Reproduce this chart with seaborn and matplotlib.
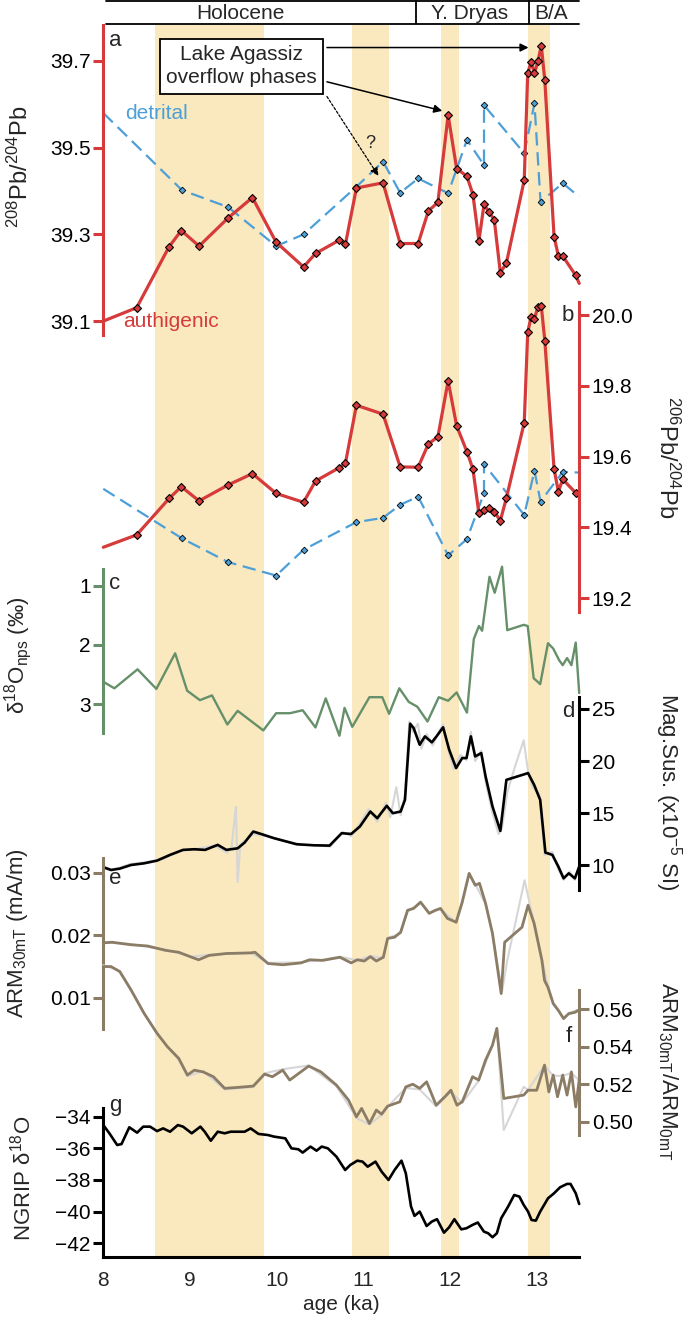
import numpy as np
import pandas as pd
import seaborn as sns
import matplotlib.pyplot as plt

sns.set_style("white")
plt.rcParams['font.family'] = ['Liberation Sans', 'DejaVu Sans']
plt.rcParams['mathtext.default'] = 'regular'

W, H = 685, 1318
XMIN, XMAX = 8.0, 13.49
LPX, RPX = 103.3, 579.2   # pixel position of age 8 and of the right edge

RED = '#d63a3a'
BLUE = '#4d9fd8'
GREEN = '#66906a'
BROWN = '#8b7c66'
GREY = '#d6d6d6'
BAND = '#fae8be'
TICK_FS = 15
LAB_FS = 16

# ---- data ----
bands = [(8.60, 9.85), (10.87, 11.30), (11.90, 12.10), (12.90, 13.15)]
periods = ["Holocene", "Y. Dryas", "B/A"]
period_mid = [9.58, 12.22, 13.17]
period_edges = [11.61, 12.91]

pb_age = [8.0, 8.385, 8.76, 8.90, 9.105, 9.44, 9.72, 9.994, 10.31, 10.448,
          10.724, 10.793, 10.92, 11.227, 11.425, 11.632, 11.75, 11.86, 11.978, 12.076,
          12.195, 12.264, 12.333, 12.392, 12.451, 12.51, 12.58, 12.649, 12.856, 12.896,
          12.935, 12.974, 13.014, 13.053, 13.093, 13.20, 13.25, 13.30, 13.448, 13.49]
pb208_auth = [39.10, 39.131, 39.272, 39.309, 39.273, 39.338, 39.385, 39.282, 39.225, 39.256,
              39.287, 39.277, 39.407, 39.419, 39.279, 39.279, 39.354, 39.374, 39.575, 39.452,
              39.434, 39.392, 39.285, 39.369, 39.351, 39.334, 39.212, 39.233, 39.425, 39.672,
              39.698, 39.672, 39.700, 39.735, 39.656, 39.295, 39.250, 39.250, 39.206, 39.187]
pb206_auth = [19.344, 19.379, 19.482, 19.515, 19.475, 19.520, 19.552, 19.496, 19.471, 19.531,
              19.569, 19.581, 19.745, 19.720, 19.571, 19.570, 19.636, 19.656, 19.814, 19.687,
              19.614, 19.565, 19.440, 19.448, 19.454, 19.445, 19.419, 19.482, 19.696, 19.951,
              19.995, 19.989, 20.024, 20.025, 19.928, 19.565, 19.501, 19.536, 19.498, 19.487]

det_age = [8.0, 8.908, 9.44, 9.994, 10.31, 10.92, 11.227, 11.425, 11.632, 11.978,
           12.195, 12.392, 12.392, 12.856, 12.974, 13.044, 13.30, 13.49]
pb208_det = [39.580, 39.402, 39.363, 39.273, 39.300, 39.410, 39.468, 39.396, 39.429, 39.395,
             39.518, 39.460, 39.598, 39.487, 39.602, 39.375, 39.418, 39.387]
pb206_det = [19.509, 19.369, 19.302, 19.264, 19.337, 19.415, 19.427, 19.464, 19.487, 19.321,
             19.367, 19.497, 19.579, 19.435, 19.560, 19.473, 19.557, 19.555]

nps_age = [8.0, 8.128, 8.395, 8.612, 8.829, 8.967, 9.115, 9.254, 9.431, 9.55,
           9.846, 9.994, 10.152, 10.30, 10.448, 10.566, 10.724, 10.783, 10.872, 11.07,
           11.218, 11.297, 11.415, 11.524, 11.622, 11.74, 11.87, 11.978, 12.076, 12.195,
           12.274, 12.333, 12.37, 12.455, 12.515, 12.60, 12.66, 12.85, 12.896, 12.965,
           13.04, 13.13, 13.19, 13.26, 13.30, 13.35, 13.40, 13.45, 13.49]
d18_nps = [2.62, 2.73, 2.41, 2.74, 2.14, 2.77, 2.93, 2.85, 3.34, 3.11,
           3.44, 3.15, 3.15, 3.10, 3.39, 2.90, 3.53, 3.06, 3.38, 2.88,
           2.88, 3.16, 2.73, 2.96, 3.04, 3.29, 2.88, 2.94, 2.80, 3.14,
           1.90, 1.68, 1.76, 0.85, 1.12, 0.68, 1.75, 1.66, 1.68, 2.56,
           2.66, 1.97, 2.06, 2.26, 2.34, 2.22, 2.34, 1.96, 2.81]

ms_age = [8.0, 8.09, 8.19, 8.32, 8.47, 8.62, 8.77, 8.92, 9.05, 9.175,
          9.32, 9.42, 9.55, 9.63, 9.73, 9.83, 9.97, 10.23, 10.43, 10.61,
          10.75, 10.86, 10.96, 11.08, 11.16, 11.27, 11.34, 11.43, 11.48, 11.54,
          11.58, 11.65, 11.71, 11.79, 11.85, 11.92, 11.99, 12.07, 12.14, 12.19,
          12.24, 12.29, 12.36, 12.41, 12.49, 12.58, 12.65, 12.74, 12.90, 12.97,
          13.04, 13.10, 13.18, 13.25, 13.31, 13.37, 13.44, 13.49]
magsus = [9.81, 9.55, 9.68, 10.03, 10.19, 10.45, 11.00, 11.48, 11.54, 11.48,
          11.96, 11.48, 11.63, 12.18, 13.24, 12.98, 12.60, 12.02, 11.92, 11.89,
          13.08, 13.01, 13.72, 15.16, 14.52, 15.71, 15.00, 15.16, 16.28, 23.59,
          23.17, 21.57, 22.37, 21.80, 22.44, 23.24, 21.09, 19.33, 20.29, 20.29,
          22.37, 20.45, 20.77, 18.53, 15.64, 13.30, 18.20, 18.43, 18.85, 17.72,
          16.28, 11.22, 11.00, 9.87, 8.75, 9.23, 8.75, 9.87]
ms_raw_age = [8.0, 8.1, 8.2, 8.3, 8.49, 8.69, 8.89, 9.09, 9.28, 9.43,
              9.48, 9.53, 9.55, 9.58, 9.73, 9.88, 10.07, 10.27, 10.47, 10.62,
              10.76, 10.86, 10.96, 11.06, 11.16, 11.26, 11.31, 11.38, 11.43, 11.48,
              11.53, 11.57, 11.63, 11.67, 11.73, 11.80, 11.87, 11.92, 11.99, 12.04,
              12.12, 12.19, 12.24, 12.29, 12.36, 12.41, 12.49, 12.56, 12.60, 12.66,
              12.75, 12.85, 12.90, 12.95, 13.03, 13.09, 13.18, 13.25, 13.31, 13.38,
              13.44, 13.49]
magsus_raw = [9.9, 9.6, 9.8, 10.1, 10.3, 10.6, 11.4, 11.6, 11.9, 11.2,
              11.8, 15.6, 8.4, 12.0, 13.0, 12.8, 12.4, 12.0, 11.9, 11.8,
              13.2, 12.8, 14.0, 15.4, 14.2, 16.0, 14.6, 17.5, 14.8, 16.8,
              23.8, 22.8, 23.6, 21.2, 22.6, 21.5, 22.8, 23.5, 20.8, 19.2,
              20.6, 20.1, 22.8, 20.0, 21.0, 18.0, 15.0, 13.0, 13.6, 17.0,
              19.5, 22.0, 19.0, 17.5, 16.8, 11.0, 11.3, 9.6, 8.6, 9.4,
              8.6, 9.9]

arm_age = [8.0, 8.1, 8.32, 8.51, 8.72, 8.87, 9.02, 9.10, 9.22, 9.42,
           9.70, 9.75, 9.90, 10.07, 10.28, 10.38, 10.53, 10.73, 10.86, 10.93,
           11.01, 11.08, 11.15, 11.23, 11.28, 11.36, 11.43, 11.51, 11.58, 11.66,
           11.76, 11.83, 11.89, 11.97, 12.07, 12.14, 12.22, 12.29, 12.34, 12.41,
           12.49, 12.59, 12.63, 12.83, 12.90, 12.97, 13.06, 13.09, 13.13, 13.19,
           13.25, 13.31, 13.37, 13.44, 13.49]
arm30 = [0.0188, 0.0189, 0.0185, 0.0183, 0.0176, 0.0173, 0.0165, 0.0161, 0.0168, 0.0171,
         0.0172, 0.0173, 0.0155, 0.0153, 0.0156, 0.0161, 0.0160, 0.0165, 0.0156, 0.0161,
         0.0159, 0.0166, 0.0159, 0.0165, 0.0195, 0.0197, 0.0205, 0.0240, 0.0243, 0.0253,
         0.0235, 0.0240, 0.0243, 0.0227, 0.0221, 0.0253, 0.0299, 0.0280, 0.0283, 0.0251,
         0.0203, 0.0107, 0.0189, 0.0213, 0.0248, 0.0219, 0.0160, 0.0128, 0.0117, 0.0091,
         0.0080, 0.0067, 0.0075, 0.0077, 0.0081]
arm_raw_age = [8.0, 8.32, 8.72, 9.02, 9.22, 9.70, 9.90, 10.28, 10.53, 10.73,
               10.93, 11.08, 11.23, 11.28, 11.43, 11.51, 11.66, 11.76, 11.89, 12.07,
               12.14, 12.22, 12.29, 12.41, 12.49, 12.60, 12.66, 12.86, 12.92, 12.97,
               13.06, 13.13, 13.19, 13.25, 13.31, 13.37, 13.49]
arm30_raw = [0.0189, 0.0186, 0.0177, 0.0166, 0.0169, 0.0172, 0.0156, 0.0157, 0.0161, 0.0166,
             0.0160, 0.0167, 0.0164, 0.0196, 0.0203, 0.0238, 0.0252, 0.0236, 0.0242, 0.0220,
             0.0250, 0.0297, 0.0282, 0.0250, 0.0200, 0.0110, 0.0160, 0.0288, 0.0250, 0.0220,
             0.0162, 0.0119, 0.0093, 0.0081, 0.0068, 0.0076, 0.0082]

ratio_age = [8.0, 8.09, 8.19, 8.32, 8.47, 8.62, 8.74, 8.87, 8.97, 9.05,
             9.15, 9.27, 9.40, 9.55, 9.73, 9.86, 9.95, 10.07, 10.15, 10.37,
             10.51, 10.69, 10.83, 10.92, 10.98, 11.07, 11.15, 11.21, 11.28, 11.42,
             11.49, 11.57, 11.65, 11.73, 11.84, 11.94, 12.01, 12.08, 12.14, 12.26,
             12.33, 12.41, 12.49, 12.54, 12.62, 12.85, 12.90, 13.00, 13.09, 13.14,
             13.19, 13.24, 13.30, 13.35, 13.40, 13.45, 13.49]
arm_ratio = [0.5828, 0.5828, 0.5801, 0.5703, 0.5579, 0.5472, 0.5400, 0.5338, 0.5249, 0.5275,
             0.5266, 0.5240, 0.5178, 0.5183, 0.5190, 0.5254, 0.5240, 0.5275, 0.5222, 0.5297,
             0.5266, 0.5195, 0.5115, 0.5026, 0.5071, 0.4990, 0.5062, 0.5040, 0.5083, 0.5106,
             0.5186, 0.5200, 0.5178, 0.5213, 0.5088, 0.5133, 0.5168, 0.5088, 0.5106, 0.5240,
             0.5222, 0.5329, 0.5409, 0.5498, 0.5124, 0.5142, 0.5168, 0.5168, 0.5302, 0.5159,
             0.5249, 0.5133, 0.5249, 0.5142, 0.5266, 0.5079, 0.5222]
ratio_raw_age = [8.0, 8.19, 8.32, 8.47, 8.62, 8.87, 8.97, 9.15, 9.40, 9.73,
                 9.86, 10.07, 10.37, 10.69, 10.92, 11.07, 11.21, 11.28, 11.49, 11.65,
                 11.84, 12.01, 12.14, 12.33, 12.49, 12.54, 12.62, 12.85, 12.90, 13.09,
                 13.19, 13.30, 13.40, 13.49]
arm_ratio_raw = [0.5835, 0.5806, 0.5706, 0.5575, 0.5468, 0.5330, 0.5243, 0.5270, 0.5172, 0.5185,
                 0.5258, 0.5280, 0.5300, 0.5190, 0.5020, 0.4985, 0.5035, 0.5080, 0.5180, 0.5172,
                 0.5082, 0.5160, 0.5100, 0.5218, 0.5410, 0.5500, 0.4955, 0.5186, 0.5170, 0.5300,
                 0.5245, 0.5245, 0.5260, 0.5220]

ngrip_age = [8.0, 8.07, 8.16, 8.21, 8.30, 8.39, 8.46, 8.54, 8.62, 8.69,
             8.77, 8.86, 8.92, 9.02, 9.12, 9.17, 9.24, 9.32, 9.40, 9.47,
             9.63, 9.70, 9.79, 9.90, 9.97, 10.10, 10.17, 10.25, 10.30, 10.39,
             10.46, 10.52, 10.59, 10.69, 10.79, 10.85, 10.93, 10.99, 11.05, 11.14,
             11.21, 11.29, 11.36, 11.44, 11.49, 11.55, 11.59, 11.65, 11.73, 11.79,
             11.85, 11.93, 11.99, 12.05, 12.13, 12.19, 12.26, 12.32, 12.39, 12.44,
             12.49, 12.54, 12.59, 12.67, 12.74, 12.80, 12.85, 12.90, 12.94, 12.99,
             13.04, 13.13, 13.20, 13.27, 13.35, 13.39, 13.45, 13.49]
ngrip_d18 = [-34.53, -35.05, -35.79, -35.73, -34.67, -35.01, -34.63, -34.63, -34.91, -34.74,
             -34.95, -34.53, -34.63, -35.05, -34.63, -34.95, -35.52, -34.95, -35.05, -34.95,
             -34.95, -34.74, -35.09, -35.16, -35.26, -35.37, -36.00, -36.06, -36.27, -35.89,
             -36.15, -35.89, -36.00, -36.53, -37.37, -37.05, -36.78, -36.84, -37.16, -36.84,
             -37.47, -38.00, -37.37, -36.78, -37.58, -39.68, -40.27, -40.00, -40.91, -40.63,
             -40.48, -41.33, -40.99, -40.48, -41.12, -41.05, -40.84, -40.69, -41.26, -41.37,
             -41.62, -41.37, -40.42, -39.68, -38.95, -39.05, -39.58, -40.00, -40.53, -40.57,
             -40.00, -39.16, -38.84, -38.46, -38.25, -38.25, -38.84, -39.52]

# ---- layout helpers (pixel based) ----
fig = plt.figure(figsize=(W / 100, H / 100), dpi=100)


def rect(top, bot):
    return [LPX / W, 1 - bot / H, (RPX - LPX) / W, (bot - top) / H]


def ftext(x, y, s, **kw):
    fig.text(x / W, 1 - y / H, s, **kw)


def make_panel(top, bot):
    ax = fig.add_axes(rect(top, bot))
    ax.patch.set_alpha(0)
    for s in ax.spines.values():
        s.set_visible(False)
    return ax


def finish(ax, v_top, v_bot, side, color, ticks, labels, bounds=None):
    ax.set(xlabel='', ylabel='')
    ax.set_xlim(XMIN, XMAX)
    ax.set_ylim(v_bot, v_top)
    ax.set_xticks([])
    sp = ax.spines[side]
    sp.set_visible(True)
    sp.set_color(color)
    sp.set_linewidth(2.2)
    sp.set_bounds(*(bounds if bounds else (min(v_top, v_bot), max(v_top, v_bot))))
    ax.yaxis.set_ticks_position(side)
    ax.set_yticks(ticks)
    ax.set_yticklabels(labels)
    ax.tick_params(axis='y', color=color, width=2.2, length=7, labelsize=TICK_FS,
                   pad=2, labelcolor='black')


def line(ax, x, y, color, lw, **kw):
    sns.lineplot(x=x, y=y, ax=ax, color=color, linewidth=lw, sort=False,
                 estimator=None, errorbar=None, clip_on=False, **kw)


# background bands
ax_bg = fig.add_axes(rect(25, 1256.7))
ax_bg.set_axis_off()
for b0, b1 in bands:
    ax_bg.axvspan(b0, b1, color=BAND, lw=0)
ax_bg.set_xlim(XMIN, XMAX)

# header with climatic periods
ax_h = fig.add_axes(rect(0, 24))
ax_h.set_axis_off()
ax_h.set_xlim(XMIN, XMAX)
ax_h.set_ylim(0, 1)
ax_h.plot([XMIN + 0.03, XMAX], [0.97, 0.97], color='black', lw=1.3, clip_on=False)
ax_h.plot([XMIN + 0.03, XMAX], [0.0, 0.0], color='black', lw=1.3, clip_on=False)
for e in period_edges:
    ax_h.plot([e, e], [0, 0.97], color='black', lw=1.3)
for name, mid in zip(periods, period_mid):
    ax_h.text(mid, 0.45, name, ha='center', va='center', fontsize=15)

mk_red = dict(marker='D', markersize=4.2, markerfacecolor=RED, markeredgecolor='black',
              markeredgewidth=0.8, markevery=list(range(1, len(pb_age) - 1)))
mk_blue = dict(marker='D', markersize=3.4, markerfacecolor=BLUE, markeredgecolor='black',
               markeredgewidth=0.6, markevery=list(range(1, len(det_age) - 1)))

# a: 208Pb/204Pb
ax_a = make_panel(25, 335)
line(ax_a, det_age, pb208_det, BLUE, 1.6, linestyle=(0, (6, 3)), **mk_blue)
line(ax_a, pb_age, pb208_auth, RED, 2.3, **mk_red)
finish(ax_a, 39.783, 39.068, 'left', RED, [39.1, 39.3, 39.5, 39.7],
       ['39.1', '39.3', '39.5', '39.7'])
ax_a.text(9.594, 39.688, "Lake Agassiz\noverflow phases", ha='center', va='center',
          fontsize=15, linespacing=1.3,
          bbox=dict(boxstyle='square,pad=0.3', fc='white', ec='black', lw=1.3), zorder=5)
arrow = dict(arrowstyle='-|>', color='black', lw=1.1, mutation_scale=12, shrinkA=0, shrinkB=0)
ax_a.annotate('', xy=(12.905, 39.731), xytext=(10.58, 39.731), arrowprops=arrow)
ax_a.annotate('', xy=(11.91, 39.585), xytext=(10.58, 39.652), arrowprops=arrow)
ax_a.annotate('', xy=(11.174, 39.435), xytext=(10.58, 39.618),
              arrowprops=dict(arrow, linestyle=(0, (2, 1.5)), lw=0.9))
ax_a.text(11.08, 39.51, "?", ha='center', va='center', fontsize=13)
ax_a.text(8.25, 39.58, "detrital", color=BLUE, ha='left', va='center', fontsize=15)
ax_a.text(8.23, 39.098, "authigenic", color=RED, ha='left', va='center', fontsize=15)

# b: 206Pb/204Pb
ax_b = make_panel(301.7, 611.7)
line(ax_b, det_age, pb206_det, BLUE, 1.6, linestyle=(0, (6, 3)), **mk_blue)
line(ax_b, pb_age, pb206_auth, RED, 2.3, **mk_red)
finish(ax_b, 20.0376, 19.162, 'right', RED, [19.2, 19.4, 19.6, 19.8, 20.0],
       ['19.2', '19.4', '19.6', '19.8', '20.0'])

# c: d18O nps
ax_c = make_panel(560, 745)
line(ax_c, nps_age, d18_nps, GREEN, 1.7)
finish(ax_c, 0.567, 3.686, 'left', GREEN, [1, 2, 3], ['1', '2', '3'], bounds=(0.718, 3.484))

# d: magnetic susceptibility
ax_d = make_panel(696.7, 890)
line(ax_d, ms_raw_age, magsus_raw, GREY, 1.5)
line(ax_d, ms_age, magsus, 'black', 1.9)
finish(ax_d, 26.18, 7.63, 'right', 'black', [10, 15, 20, 25], ['10', '15', '20', '25'])

# e: ARM30mT
ax_e = make_panel(858.3, 1029.3)
line(ax_e, arm_raw_age, arm30_raw, GREY, 1.5)
line(ax_e, arm_age, arm30, BROWN, 2.0)
finish(ax_e, 0.0323, 0.005, 'left', BROWN, [0.01, 0.02, 0.03], ['0.01', '0.02', '0.03'])

# f: ARM ratio
ax_f = make_panel(960, 1135)
line(ax_f, ratio_raw_age, arm_ratio_raw, GREY, 1.5)
line(ax_f, ratio_age, arm_ratio, BROWN, 2.0)
finish(ax_f, 0.5863, 0.4929, 'right', BROWN, [0.50, 0.52, 0.54, 0.56],
       ['0.50', '0.52', '0.54', '0.56'], bounds=(0.4929, 0.5703))

# g: NGRIP
ax_g = make_panel(1108.3, 1256.7)
line(ax_g, ngrip_age, ngrip_d18, 'black', 1.9)
finish(ax_g, -33.47, -42.85, 'left', 'black', [-42, -40, -38, -36, -34],
       ['\u221242', '\u221240', '\u221238', '\u221236', '\u221234'])
ax_g.spines['bottom'].set_visible(True)
ax_g.spines['bottom'].set_color('black')
ax_g.spines['bottom'].set_linewidth(2.2)
ax_g.set_xticks(range(8, 14))
ax_g.set_xticklabels([str(t) for t in range(8, 14)])
ax_g.tick_params(axis='x', color='black', width=2.2, length=7, labelsize=TICK_FS, pad=3)

# axis titles and panel letters
ftext(341, 1304, "age (ka)", ha='center', va='center', fontsize=TICK_FS)
ftext(20, 167, r'$^{208}$Pb/$^{204}$Pb', rotation=90, ha='center', va='center', fontsize=17)
ftext(667, 457, r'$^{206}$Pb/$^{204}$Pb', rotation=270, ha='center', va='center', fontsize=17)
ftext(18, 655, r'δ$^{18}$O$_{nps}$ (‰)', rotation=90, ha='center', va='center', fontsize=LAB_FS)
ftext(668, 792, r'Mag.Sus. (x10$^{-5}$ SI)', rotation=270, ha='center', va='center', fontsize=LAB_FS)
ftext(18, 933, r'ARM$_{30mT}$ (mA/m)', rotation=90, ha='center', va='center', fontsize=LAB_FS)
ftext(668, 1071, r'ARM$_{30mT}$/ARM$_{0mT}$', rotation=270, ha='center', va='center', fontsize=LAB_FS)
ftext(23, 1178, r'NGRIP δ$^{18}$O', rotation=90, ha='center', va='center', fontsize=LAB_FS)
for lab, x, y in [('a', 115, 41), ('b', 568, 316), ('c', 115, 583), ('d', 568, 712),
                  ('e', 115, 878), ('f', 569, 1037), ('g', 115, 1106)]:
    ftext(x, y, lab, ha='center', va='center', fontsize=16)

fig.savefig("out.png", dpi=100)
